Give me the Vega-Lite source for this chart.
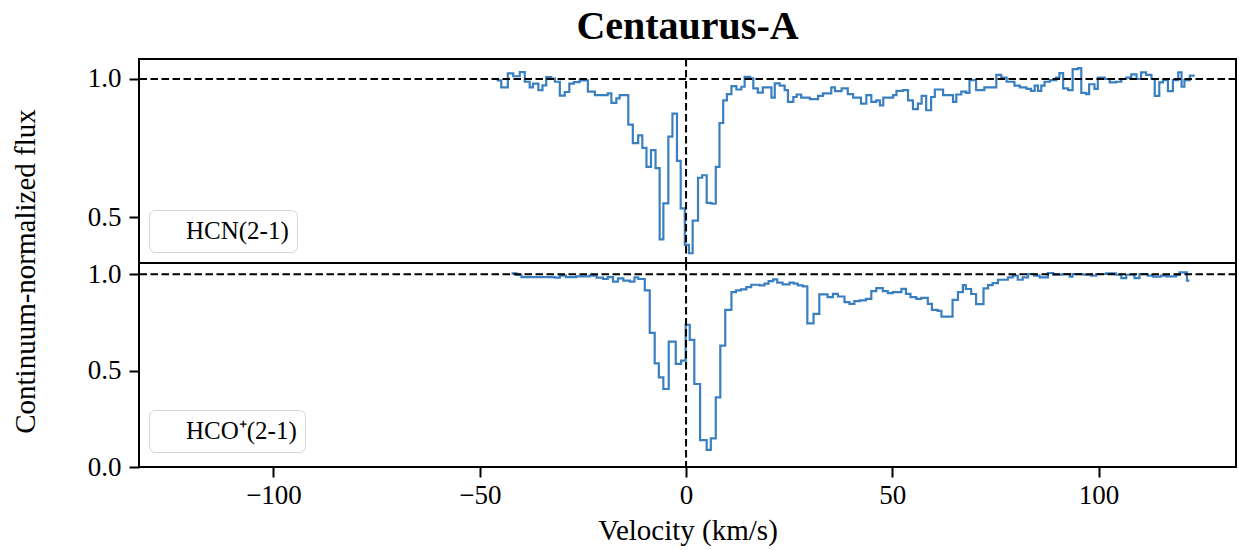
{
  "$schema": "https://vega.github.io/schema/vega-lite/v6.json",
  "background": "white",
  "padding": {"left": 9, "top": 6, "right": 0, "bottom": 0},
  "datasets": {
    "hcn": [
      {"line": "HCN(2-1)", "v": -45.9, "f": 0.995}, {"line": "HCN(2-1)", "v": -44.8, "f": 0.97}, {"line": "HCN(2-1)", "v": -43.2, "f": 1.02}, {"line": "HCN(2-1)", "v": -41.9, "f": 1.01}, {"line": "HCN(2-1)", "v": -40.3, "f": 1.025}, {"line": "HCN(2-1)", "v": -39.1, "f": 0.99}, {"line": "HCN(2-1)", "v": -37.9, "f": 0.97}, {"line": "HCN(2-1)", "v": -37.1, "f": 0.983}, {"line": "HCN(2-1)", "v": -35.8, "f": 0.96}, {"line": "HCN(2-1)", "v": -34.8, "f": 0.977}, {"line": "HCN(2-1)", "v": -33.9, "f": 1.007}, {"line": "HCN(2-1)", "v": -32.7, "f": 1.001}, {"line": "HCN(2-1)", "v": -31.8, "f": 0.99}, {"line": "HCN(2-1)", "v": -30.6, "f": 0.94}, {"line": "HCN(2-1)", "v": -29.4, "f": 0.953}, {"line": "HCN(2-1)", "v": -28.3, "f": 0.983}, {"line": "HCN(2-1)", "v": -27.2, "f": 0.989}, {"line": "HCN(2-1)", "v": -25.8, "f": 0.995}, {"line": "HCN(2-1)", "v": -23.8, "f": 0.954}, {"line": "HCN(2-1)", "v": -22.1, "f": 0.942}, {"line": "HCN(2-1)", "v": -19.0, "f": 0.948}, {"line": "HCN(2-1)", "v": -18.1, "f": 0.914}, {"line": "HCN(2-1)", "v": -16.9, "f": 0.93}, {"line": "HCN(2-1)", "v": -16.1, "f": 0.942}, {"line": "HCN(2-1)", "v": -14.0, "f": 0.835}, {"line": "HCN(2-1)", "v": -12.9, "f": 0.768}, {"line": "HCN(2-1)", "v": -11.6, "f": 0.796}, {"line": "HCN(2-1)", "v": -10.6, "f": 0.751}, {"line": "HCN(2-1)", "v": -9.6, "f": 0.682}, {"line": "HCN(2-1)", "v": -8.5, "f": 0.743}, {"line": "HCN(2-1)", "v": -7.4, "f": 0.678}, {"line": "HCN(2-1)", "v": -6.4, "f": 0.42}, {"line": "HCN(2-1)", "v": -5.5, "f": 0.55}, {"line": "HCN(2-1)", "v": -4.3, "f": 0.792}, {"line": "HCN(2-1)", "v": -3.3, "f": 0.875}, {"line": "HCN(2-1)", "v": -2.2, "f": 0.704}, {"line": "HCN(2-1)", "v": -1.3, "f": 0.532}, {"line": "HCN(2-1)", "v": -0.3, "f": 0.4}, {"line": "HCN(2-1)", "v": 0.7, "f": 0.37}, {"line": "HCN(2-1)", "v": 1.6, "f": 0.488}, {"line": "HCN(2-1)", "v": 2.9, "f": 0.643}, {"line": "HCN(2-1)", "v": 3.9, "f": 0.652}, {"line": "HCN(2-1)", "v": 5.0, "f": 0.552}, {"line": "HCN(2-1)", "v": 6.2, "f": 0.549}, {"line": "HCN(2-1)", "v": 7.2, "f": 0.682}, {"line": "HCN(2-1)", "v": 8.1, "f": 0.841}, {"line": "HCN(2-1)", "v": 9.0, "f": 0.923}, {"line": "HCN(2-1)", "v": 9.9, "f": 0.945}, {"line": "HCN(2-1)", "v": 11.0, "f": 0.974}, {"line": "HCN(2-1)", "v": 12.2, "f": 0.962}, {"line": "HCN(2-1)", "v": 13.4, "f": 0.972}, {"line": "HCN(2-1)", "v": 14.2, "f": 1.008}, {"line": "HCN(2-1)", "v": 15.5, "f": 1.002}, {"line": "HCN(2-1)", "v": 16.3, "f": 0.966}, {"line": "HCN(2-1)", "v": 17.4, "f": 0.951}, {"line": "HCN(2-1)", "v": 18.6, "f": 0.97}, {"line": "HCN(2-1)", "v": 20.7, "f": 0.933}, {"line": "HCN(2-1)", "v": 21.5, "f": 0.984}, {"line": "HCN(2-1)", "v": 22.7, "f": 0.976}, {"line": "HCN(2-1)", "v": 23.9, "f": 0.96}, {"line": "HCN(2-1)", "v": 24.7, "f": 0.917}, {"line": "HCN(2-1)", "v": 26.0, "f": 0.935}, {"line": "HCN(2-1)", "v": 26.8, "f": 0.944}, {"line": "HCN(2-1)", "v": 27.9, "f": 0.933}, {"line": "HCN(2-1)", "v": 30.0, "f": 0.927}, {"line": "HCN(2-1)", "v": 32.0, "f": 0.939}, {"line": "HCN(2-1)", "v": 33.2, "f": 0.948}, {"line": "HCN(2-1)", "v": 35.2, "f": 0.97}, {"line": "HCN(2-1)", "v": 36.1, "f": 0.956}, {"line": "HCN(2-1)", "v": 37.7, "f": 0.966}, {"line": "HCN(2-1)", "v": 39.2, "f": 0.945}, {"line": "HCN(2-1)", "v": 40.5, "f": 0.933}, {"line": "HCN(2-1)", "v": 42.4, "f": 0.911}, {"line": "HCN(2-1)", "v": 43.7, "f": 0.942}, {"line": "HCN(2-1)", "v": 44.9, "f": 0.917}, {"line": "HCN(2-1)", "v": 46.1, "f": 0.923}, {"line": "HCN(2-1)", "v": 47.0, "f": 0.905}, {"line": "HCN(2-1)", "v": 47.8, "f": 0.933}, {"line": "HCN(2-1)", "v": 50.2, "f": 0.942}, {"line": "HCN(2-1)", "v": 51.0, "f": 0.957}, {"line": "HCN(2-1)", "v": 52.6, "f": 0.96}, {"line": "HCN(2-1)", "v": 53.8, "f": 0.923}, {"line": "HCN(2-1)", "v": 55.0, "f": 0.891}, {"line": "HCN(2-1)", "v": 56.2, "f": 0.911}, {"line": "HCN(2-1)", "v": 57.1, "f": 0.939}, {"line": "HCN(2-1)", "v": 58.2, "f": 0.887}, {"line": "HCN(2-1)", "v": 59.4, "f": 0.935}, {"line": "HCN(2-1)", "v": 60.3, "f": 0.962}, {"line": "HCN(2-1)", "v": 62.3, "f": 0.942}, {"line": "HCN(2-1)", "v": 64.7, "f": 0.917}, {"line": "HCN(2-1)", "v": 65.5, "f": 0.944}, {"line": "HCN(2-1)", "v": 66.7, "f": 0.954}, {"line": "HCN(2-1)", "v": 67.9, "f": 0.95}, {"line": "HCN(2-1)", "v": 68.7, "f": 0.996}, {"line": "HCN(2-1)", "v": 70.3, "f": 0.96}, {"line": "HCN(2-1)", "v": 72.3, "f": 0.97}, {"line": "HCN(2-1)", "v": 75.2, "f": 1.015}, {"line": "HCN(2-1)", "v": 76.4, "f": 1.005}, {"line": "HCN(2-1)", "v": 77.7, "f": 0.99}, {"line": "HCN(2-1)", "v": 79.6, "f": 0.976}, {"line": "HCN(2-1)", "v": 80.9, "f": 0.97}, {"line": "HCN(2-1)", "v": 82.5, "f": 0.964}, {"line": "HCN(2-1)", "v": 83.6, "f": 0.957}, {"line": "HCN(2-1)", "v": 84.5, "f": 0.976}, {"line": "HCN(2-1)", "v": 85.3, "f": 0.957}, {"line": "HCN(2-1)", "v": 86.1, "f": 0.976}, {"line": "HCN(2-1)", "v": 86.9, "f": 0.99}, {"line": "HCN(2-1)", "v": 88.2, "f": 0.996}, {"line": "HCN(2-1)", "v": 89.7, "f": 1.005}, {"line": "HCN(2-1)", "v": 90.5, "f": 1.021}, {"line": "HCN(2-1)", "v": 91.4, "f": 0.966}, {"line": "HCN(2-1)", "v": 92.6, "f": 0.96}, {"line": "HCN(2-1)", "v": 93.7, "f": 1.036}, {"line": "HCN(2-1)", "v": 95.0, "f": 1.039}, {"line": "HCN(2-1)", "v": 95.8, "f": 0.95}, {"line": "HCN(2-1)", "v": 97.0, "f": 0.945}, {"line": "HCN(2-1)", "v": 97.7, "f": 0.981}, {"line": "HCN(2-1)", "v": 99.0, "f": 0.964}, {"line": "HCN(2-1)", "v": 99.8, "f": 1.005}, {"line": "HCN(2-1)", "v": 101.5, "f": 1.0}, {"line": "HCN(2-1)", "v": 102.7, "f": 0.988}, {"line": "HCN(2-1)", "v": 104.2, "f": 0.99}, {"line": "HCN(2-1)", "v": 105.5, "f": 1.0}, {"line": "HCN(2-1)", "v": 106.7, "f": 1.005}, {"line": "HCN(2-1)", "v": 107.9, "f": 1.017}, {"line": "HCN(2-1)", "v": 109.2, "f": 1.0}, {"line": "HCN(2-1)", "v": 110.3, "f": 1.024}, {"line": "HCN(2-1)", "v": 111.5, "f": 1.015}, {"line": "HCN(2-1)", "v": 112.8, "f": 1.0}, {"line": "HCN(2-1)", "v": 113.6, "f": 0.939}, {"line": "HCN(2-1)", "v": 114.7, "f": 0.988}, {"line": "HCN(2-1)", "v": 115.6, "f": 0.996}, {"line": "HCN(2-1)", "v": 116.8, "f": 0.956}, {"line": "HCN(2-1)", "v": 118.0, "f": 0.996}, {"line": "HCN(2-1)", "v": 119.3, "f": 1.024}, {"line": "HCN(2-1)", "v": 120.1, "f": 0.972}, {"line": "HCN(2-1)", "v": 120.8, "f": 0.996}, {"line": "HCN(2-1)", "v": 122.1, "f": 1.012}, {"line": "HCN(2-1)", "v": 123.3, "f": 1.012}
    ],
    "hcop": [
      {"line": "HCO⁺(2-1)", "v": -42.3, "f": 1.005}, {"line": "HCO⁺(2-1)", "v": -41.1, "f": 0.997}, {"line": "HCO⁺(2-1)", "v": -39.9, "f": 0.986}, {"line": "HCO⁺(2-1)", "v": -31.8, "f": 0.983}, {"line": "HCO⁺(2-1)", "v": -30.6, "f": 0.993}, {"line": "HCO⁺(2-1)", "v": -29.1, "f": 0.986}, {"line": "HCO⁺(2-1)", "v": -26.6, "f": 0.99}, {"line": "HCO⁺(2-1)", "v": -23.4, "f": 0.993}, {"line": "HCO⁺(2-1)", "v": -21.7, "f": 0.983}, {"line": "HCO⁺(2-1)", "v": -20.1, "f": 0.976}, {"line": "HCO⁺(2-1)", "v": -19.0, "f": 0.986}, {"line": "HCO⁺(2-1)", "v": -17.7, "f": 0.962}, {"line": "HCO⁺(2-1)", "v": -16.5, "f": 0.979}, {"line": "HCO⁺(2-1)", "v": -15.2, "f": 0.967}, {"line": "HCO⁺(2-1)", "v": -13.6, "f": 0.962}, {"line": "HCO⁺(2-1)", "v": -12.5, "f": 0.984}, {"line": "HCO⁺(2-1)", "v": -11.6, "f": 0.976}, {"line": "HCO⁺(2-1)", "v": -10.0, "f": 0.917}, {"line": "HCO⁺(2-1)", "v": -8.8, "f": 0.696}, {"line": "HCO⁺(2-1)", "v": -7.6, "f": 0.538}, {"line": "HCO⁺(2-1)", "v": -6.6, "f": 0.465}, {"line": "HCO⁺(2-1)", "v": -5.5, "f": 0.405}, {"line": "HCO⁺(2-1)", "v": -4.2, "f": 0.651}, {"line": "HCO⁺(2-1)", "v": -2.5, "f": 0.535}, {"line": "HCO⁺(2-1)", "v": -1.2, "f": 0.552}, {"line": "HCO⁺(2-1)", "v": -0.1, "f": 0.738}, {"line": "HCO⁺(2-1)", "v": 0.9, "f": 0.66}, {"line": "HCO⁺(2-1)", "v": 2.0, "f": 0.431}, {"line": "HCO⁺(2-1)", "v": 3.4, "f": 0.139}, {"line": "HCO⁺(2-1)", "v": 5.0, "f": 0.089}, {"line": "HCO⁺(2-1)", "v": 6.0, "f": 0.149}, {"line": "HCO⁺(2-1)", "v": 7.2, "f": 0.361}, {"line": "HCO⁺(2-1)", "v": 8.3, "f": 0.63}, {"line": "HCO⁺(2-1)", "v": 9.5, "f": 0.816}, {"line": "HCO⁺(2-1)", "v": 11.0, "f": 0.908}, {"line": "HCO⁺(2-1)", "v": 12.1, "f": 0.917}, {"line": "HCO⁺(2-1)", "v": 13.3, "f": 0.922}, {"line": "HCO⁺(2-1)", "v": 14.6, "f": 0.934}, {"line": "HCO⁺(2-1)", "v": 15.8, "f": 0.946}, {"line": "HCO⁺(2-1)", "v": 17.8, "f": 0.943}, {"line": "HCO⁺(2-1)", "v": 19.0, "f": 0.952}, {"line": "HCO⁺(2-1)", "v": 20.0, "f": 0.965}, {"line": "HCO⁺(2-1)", "v": 21.1, "f": 0.974}, {"line": "HCO⁺(2-1)", "v": 22.1, "f": 0.957}, {"line": "HCO⁺(2-1)", "v": 23.4, "f": 0.948}, {"line": "HCO⁺(2-1)", "v": 25.1, "f": 0.957}, {"line": "HCO⁺(2-1)", "v": 26.1, "f": 0.952}, {"line": "HCO⁺(2-1)", "v": 27.1, "f": 0.943}, {"line": "HCO⁺(2-1)", "v": 28.3, "f": 0.938}, {"line": "HCO⁺(2-1)", "v": 29.4, "f": 0.746}, {"line": "HCO⁺(2-1)", "v": 30.9, "f": 0.795}, {"line": "HCO⁺(2-1)", "v": 32.3, "f": 0.896}, {"line": "HCO⁺(2-1)", "v": 34.3, "f": 0.882}, {"line": "HCO⁺(2-1)", "v": 35.6, "f": 0.899}, {"line": "HCO⁺(2-1)", "v": 36.8, "f": 0.885}, {"line": "HCO⁺(2-1)", "v": 38.4, "f": 0.856}, {"line": "HCO⁺(2-1)", "v": 39.6, "f": 0.847}, {"line": "HCO⁺(2-1)", "v": 40.8, "f": 0.861}, {"line": "HCO⁺(2-1)", "v": 42.1, "f": 0.865}, {"line": "HCO⁺(2-1)", "v": 43.6, "f": 0.873}, {"line": "HCO⁺(2-1)", "v": 44.9, "f": 0.913}, {"line": "HCO⁺(2-1)", "v": 46.1, "f": 0.929}, {"line": "HCO⁺(2-1)", "v": 47.7, "f": 0.913}, {"line": "HCO⁺(2-1)", "v": 48.9, "f": 0.903}, {"line": "HCO⁺(2-1)", "v": 50.1, "f": 0.908}, {"line": "HCO⁺(2-1)", "v": 52.2, "f": 0.925}, {"line": "HCO⁺(2-1)", "v": 53.3, "f": 0.899}, {"line": "HCO⁺(2-1)", "v": 54.4, "f": 0.882}, {"line": "HCO⁺(2-1)", "v": 55.8, "f": 0.873}, {"line": "HCO⁺(2-1)", "v": 57.0, "f": 0.878}, {"line": "HCO⁺(2-1)", "v": 58.6, "f": 0.847}, {"line": "HCO⁺(2-1)", "v": 59.6, "f": 0.816}, {"line": "HCO⁺(2-1)", "v": 61.0, "f": 0.81}, {"line": "HCO⁺(2-1)", "v": 61.9, "f": 0.781}, {"line": "HCO⁺(2-1)", "v": 64.6, "f": 0.868}, {"line": "HCO⁺(2-1)", "v": 65.9, "f": 0.908}, {"line": "HCO⁺(2-1)", "v": 67.1, "f": 0.944}, {"line": "HCO⁺(2-1)", "v": 67.8, "f": 0.924}, {"line": "HCO⁺(2-1)", "v": 69.1, "f": 0.898}, {"line": "HCO⁺(2-1)", "v": 70.3, "f": 0.845}, {"line": "HCO⁺(2-1)", "v": 72.1, "f": 0.927}, {"line": "HCO⁺(2-1)", "v": 73.2, "f": 0.944}, {"line": "HCO⁺(2-1)", "v": 74.3, "f": 0.955}, {"line": "HCO⁺(2-1)", "v": 75.6, "f": 0.972}, {"line": "HCO⁺(2-1)", "v": 78.0, "f": 0.984}, {"line": "HCO⁺(2-1)", "v": 79.2, "f": 0.993}, {"line": "HCO⁺(2-1)", "v": 80.4, "f": 0.972}, {"line": "HCO⁺(2-1)", "v": 81.6, "f": 0.984}, {"line": "HCO⁺(2-1)", "v": 82.9, "f": 1.002}, {"line": "HCO⁺(2-1)", "v": 84.4, "f": 0.993}, {"line": "HCO⁺(2-1)", "v": 85.7, "f": 0.984}, {"line": "HCO⁺(2-1)", "v": 87.7, "f": 1.007}, {"line": "HCO⁺(2-1)", "v": 89.0, "f": 0.998}, {"line": "HCO⁺(2-1)", "v": 91.3, "f": 1.002}, {"line": "HCO⁺(2-1)", "v": 93.0, "f": 0.988}, {"line": "HCO⁺(2-1)", "v": 93.7, "f": 1.002}, {"line": "HCO⁺(2-1)", "v": 96.2, "f": 0.998}, {"line": "HCO⁺(2-1)", "v": 98.2, "f": 0.993}, {"line": "HCO⁺(2-1)", "v": 99.4, "f": 1.002}, {"line": "HCO⁺(2-1)", "v": 101.8, "f": 1.005}, {"line": "HCO⁺(2-1)", "v": 104.2, "f": 0.998}, {"line": "HCO⁺(2-1)", "v": 105.5, "f": 0.981}, {"line": "HCO⁺(2-1)", "v": 106.7, "f": 0.998}, {"line": "HCO⁺(2-1)", "v": 108.7, "f": 0.981}, {"line": "HCO⁺(2-1)", "v": 109.9, "f": 1.002}, {"line": "HCO⁺(2-1)", "v": 111.9, "f": 0.993}, {"line": "HCO⁺(2-1)", "v": 113.2, "f": 0.988}, {"line": "HCO⁺(2-1)", "v": 115.1, "f": 0.993}, {"line": "HCO⁺(2-1)", "v": 116.4, "f": 0.99}, {"line": "HCO⁺(2-1)", "v": 118.8, "f": 0.997}, {"line": "HCO⁺(2-1)", "v": 119.6, "f": 1.01}, {"line": "HCO⁺(2-1)", "v": 121.4, "f": 0.967}, {"line": "HCO⁺(2-1)", "v": 122.0, "f": 0.967}
    ],
    "refs": [{"continuum": 1, "systemic": 0}]
  },
  "vconcat": [
    {
      "width": 1097,
      "height": 204,
      "title": {
        "text": "Centaurus-A",
        "font": "Liberation Serif",
        "fontSize": 40,
        "fontWeight": "bold",
        "color": "black",
        "anchor": "middle",
        "frame": "group",
        "offset": 11
      },
      "layer": [
        {
          "data": {"name": "hcn"},
          "mark": {"type": "line", "interpolate": "step-after", "strokeWidth": 2.2},
          "encoding": {
            "x": {"field": "v", "type": "quantitative", "scale": {"domain": [-132.6, 133.3], "nice": false, "zero": false}, "axis": null},
            "y": {
              "field": "f", "type": "quantitative",
              "scale": {"domain": [0.3348, 1.0723], "nice": false, "zero": false},
              "axis": {"values": [0.5, 1.0], "format": ".1f", "title": null}
            },
            "color": {
              "field": "line", "type": "nominal",
              "scale": {"range": ["#3a80c0"]},
              "legend": {"orient": "none", "legendX": 10, "legendY": 151}
            }
          }
        },
        {
          "data": {"name": "refs"},
          "mark": {"type": "rule", "color": "black", "strokeWidth": 2, "strokeDash": [7.5, 3.5]},
          "encoding": {"y": {"field": "continuum", "type": "quantitative"}}
        },
        {
          "data": {"name": "refs"},
          "mark": {"type": "rule", "color": "black", "strokeWidth": 2, "strokeDash": [7.5, 3.5]},
          "encoding": {"x": {"field": "systemic", "type": "quantitative"}}
        }
      ]
    },
    {
      "width": 1097,
      "height": 204,
      "layer": [
        {
          "data": {"name": "hcop"},
          "mark": {"type": "line", "interpolate": "step-after", "strokeWidth": 2.2},
          "encoding": {
            "x": {
              "field": "v", "type": "quantitative",
              "scale": {"domain": [-132.6, 133.3], "nice": false, "zero": false},
              "axis": {"values": [-100, -50, 0, 50, 100], "title": "Velocity (km/s)", "labelPadding": 5, "titlePadding": 8}
            },
            "y": {
              "field": "f", "type": "quantitative",
              "scale": {"domain": [0, 1.059], "nice": false, "zero": false},
              "axis": {
                "values": [0, 0.5, 1.0], "format": ".1f",
                "title": "Continuum-normalized flux",
                "titleX": -114, "titleY": 8, "titleAngle": 270,
                "titleAlign": "center", "titleBaseline": "middle"
              }
            },
            "color": {
              "field": "line", "type": "nominal",
              "scale": {"range": ["#3a80c0"]},
              "legend": {"orient": "none", "legendX": 10, "legendY": 147}
            }
          }
        },
        {
          "data": {"name": "refs"},
          "mark": {"type": "rule", "color": "black", "strokeWidth": 2, "strokeDash": [7.5, 3.5]},
          "encoding": {"y": {"field": "continuum", "type": "quantitative"}}
        },
        {
          "data": {"name": "refs"},
          "mark": {"type": "rule", "color": "black", "strokeWidth": 2, "strokeDash": [7.5, 3.5]},
          "encoding": {"x": {"field": "systemic", "type": "quantitative"}}
        }
      ]
    }
  ],
  "spacing": 0,
  "bounds": "flush",
  "resolve": {"scale": {"color": "independent"}, "legend": {"color": "independent"}},
  "config": {
    "view": {"stroke": "black", "strokeWidth": 2},
    "axis": {
      "labelFont": "Liberation Serif",
      "titleFont": "Liberation Serif",
      "labelFontSize": 27,
      "titleFontSize": 29,
      "titleFontWeight": "normal",
      "labelColor": "black",
      "titleColor": "black",
      "tickColor": "black",
      "tickSize": 10,
      "tickWidth": 2,
      "labelPadding": 8,
      "labelFlush": false,
      "labelOverlap": false,
      "domain": false,
      "grid": false
    },
    "legend": {
      "title": null,
      "labelFont": "Liberation Serif",
      "labelFontSize": 25,
      "labelColor": "black",
      "fillColor": "white",
      "strokeColor": "#d4d4d4",
      "cornerRadius": 6,
      "padding": 8,
      "symbolType": "stroke",
      "symbolSize": 16,
      "symbolOpacity": 0,
      "symbolStrokeWidth": 0,
      "labelOffset": 4
    }
  }
}
